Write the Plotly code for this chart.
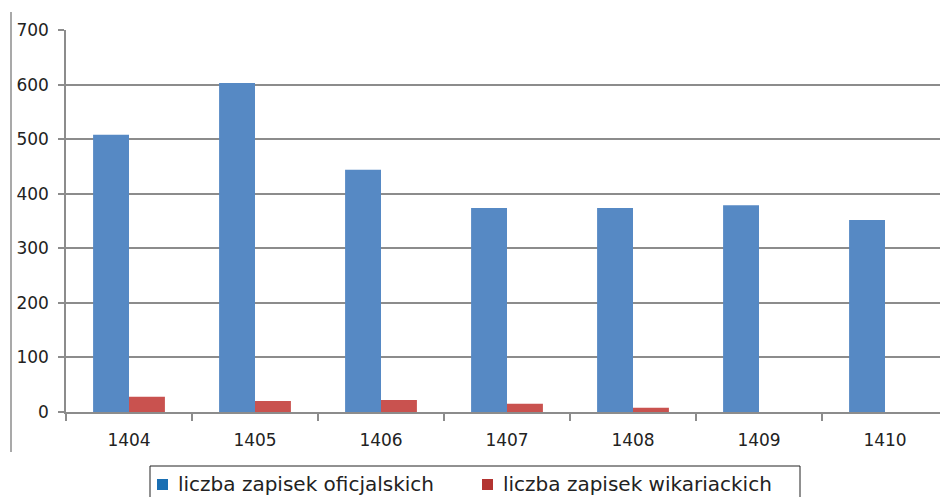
import plotly.graph_objects as go

# dane
lata = ["1404", "1405", "1406", "1407", "1408", "1409", "1410"]
oficjalskie = [508, 603, 444, 374, 374, 379, 352]
wikariackie = [28, 20, 22, 15, 8, 0, 0]
nazwy = ["liczba zapisek oficjalskich", "liczba zapisek wikariackich"]

NIEBIESKI = "#5689c4"
CZERWONY = "#c9524f"
GRID = "#8c8c8c"
FONT = "DejaVu Sans, Liberation Sans, Arial"

# strona ma 8 px marginesu body, więc figura zaczyna się w (8, 8) okna
OFF = 8
W, H = 948 - OFF, 497 - OFF
L, R, T = 66 - OFF, 0, 30 - OFF
PH = 412 - 30
B = H - T - PH
PW = W - L - R


def px(x):
    # piksel okna -> współrzędna paper
    return (x - OFF - L) / PW


def py(y):
    return (H - B - (y - OFF)) / PH


fig = go.Figure()
fig.add_trace(go.Bar(x=lata, y=oficjalskie, marker=dict(color=NIEBIESKI, line=dict(width=0)),
                     showlegend=False, name=nazwy[0]))
fig.add_trace(go.Bar(x=lata, y=wikariackie, marker=dict(color=CZERWONY, line=dict(width=0)),
                     showlegend=False, name=nazwy[1]))

# legenda rysowana ręcznie (ramka wychodzi poza dół obrazka)
shapes = [
    dict(type="line", xref="paper", yref="paper", x0=px(11), x1=px(11), y0=py(452), y1=py(12),
         line=dict(color=GRID, width=1.5)),
    dict(type="rect", xref="paper", yref="paper", x0=px(150), x1=px(800), y0=py(466), y1=py(510),
         line=dict(color="#222222", width=1), fillcolor="white"),
]
annotations = []
for nazwa, kolor, x0 in zip(nazwy, ["#1a6fb3", "#b33431"], [157, 482]):
    shapes.append(dict(type="rect", xref="paper", yref="paper", x0=px(x0), x1=px(x0 + 11),
                       y0=py(490), y1=py(479), line=dict(width=0), fillcolor=kolor))
    annotations.append(dict(xref="paper", yref="paper", x=px(x0 + 19), y=py(484),
                            xanchor="left", yanchor="middle", showarrow=False, text=nazwa,
                            font=dict(size=20, family=FONT, color="#222222")))

fig.update_layout(
    width=W, height=H,
    margin=dict(l=L, r=R, t=T, b=B),
    paper_bgcolor="white", plot_bgcolor="white",
    barmode="group", bargap=0.43, bargroupgap=0,
    showlegend=False,
    font=dict(family=FONT, color="#222222"),
    xaxis=dict(
        showgrid=False, showline=True, linecolor=GRID, linewidth=1.5,
        ticks="outside", tickson="boundaries", ticklen=7, tickcolor=GRID, tickwidth=1.5,
        tickfont=dict(size=17), ticklabelstandoff=12,
    ),
    yaxis=dict(
        range=[0, 700], dtick=100, showgrid=True, gridcolor=GRID, gridwidth=1.5,
        showline=True, linecolor=GRID, linewidth=1.5, zeroline=False,
        ticks="outside", ticklen=6, tickcolor=GRID, tickwidth=1.5,
        tickfont=dict(size=17), ticklabelstandoff=6,
    ),
    shapes=shapes,
    annotations=annotations,
)

fig.write_html("out.html")
